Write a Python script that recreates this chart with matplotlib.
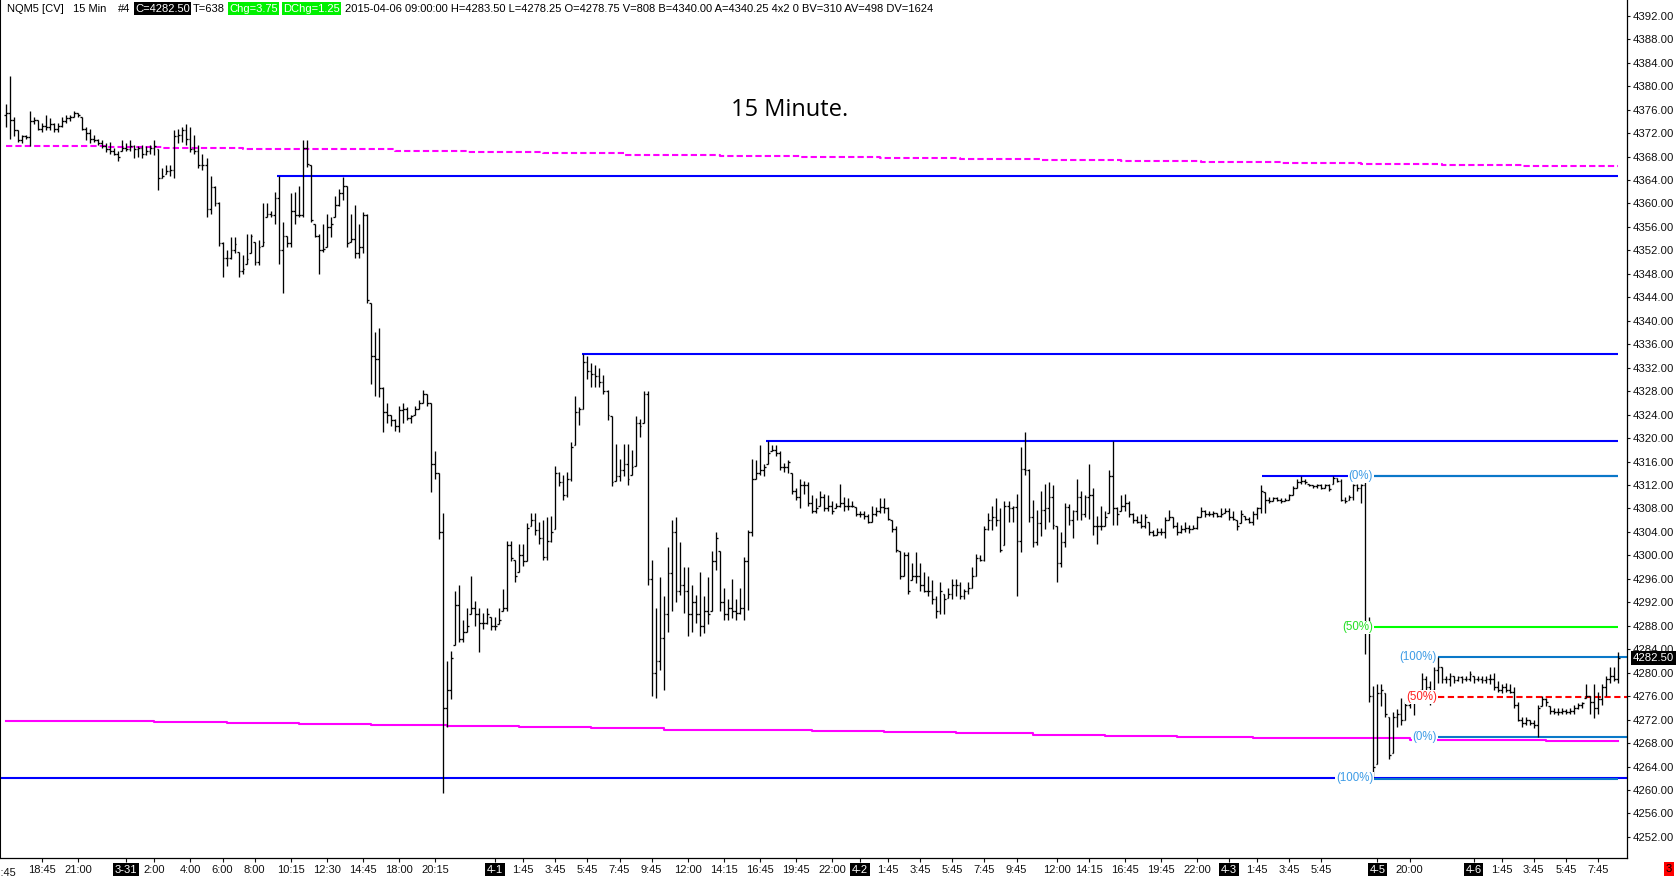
import numpy as np
import matplotlib
matplotlib.use('Agg')
import matplotlib.pyplot as plt
import matplotlib.transforms as mtransforms
from matplotlib.collections import LineCollection

plt.rcParams['font.family'] = ['Liberation Sans', 'DejaVu Sans']

# NQM5 15 min bars: highs / lows / closes (10 bars per line)
highs = [
    4377.0, 4381.75, 4374.75, 4372.5, 4371.75, 4371.75, 4375.75, 4374.75, 4374.25, 4373.75,
    4375.0, 4374.5, 4373.75, 4373.75, 4374.75, 4375.0, 4375.0, 4375.75, 4375.5, 4374.75,
    4373.0, 4372.75, 4371.75, 4371.0, 4370.75, 4370.25, 4370.5, 4369.5, 4369.0, 4370.75,
    4370.25, 4370.75, 4370.0, 4369.75, 4370.0, 4369.75, 4370.0, 4370.75, 4369.25, 4366.0,
    4366.5, 4366.5, 4372.5, 4372.75, 4373.0, 4373.5, 4373.0, 4371.75, 4370.0, 4368.5,
    4367.75, 4364.75, 4363.0, 4360.25, 4353.5, 4352.0, 4354.25, 4354.25, 4351.75, 4351.25,
    4354.75, 4354.75, 4353.5, 4353.75, 4360.0, 4360.0, 4358.75, 4362.0, 4364.75, 4356.75,
    4354.5, 4361.75, 4362.0, 4363.0, 4370.75, 4370.75, 4366.5, 4356.5, 4354.75, 4356.5,
    4358.25, 4357.75, 4361.25, 4362.5, 4364.5, 4363.0, 4358.25, 4359.75, 4356.5, 4358.5,
    4358.25, 4343.0, 4338.0, 4338.75, 4328.75, 4326.0, 4324.0, 4323.25, 4325.5, 4326.0,
    4325.25, 4324.0, 4325.5, 4326.5, 4328.25, 4327.5, 4326.0, 4317.75, 4314.0, 4307.25,
    4282.0, 4283.75, 4294.0, 4295.0, 4289.0, 4291.0, 4296.5, 4292.25, 4291.0, 4290.25,
    4291.0, 4289.5, 4289.5, 4291.0, 4294.25, 4302.5, 4302.5, 4299.25, 4302.0, 4302.0,
    4305.5, 4307.25, 4307.25, 4305.75, 4306.0, 4306.5, 4306.75, 4315.25, 4314.25, 4313.75,
    4314.25, 4319.25, 4327.25, 4325.25, 4334.25, 4334.0, 4332.75, 4332.5, 4332.0, 4330.75,
    4328.25, 4323.75, 4319.0, 4316.5, 4319.0, 4319.0, 4318.0, 4323.75, 4323.25, 4328.0,
    4328.0, 4299.25, 4291.0, 4296.25, 4293.0, 4301.5, 4306.0, 4306.5, 4302.25, 4298.0,
    4298.0, 4295.0, 4293.25, 4297.25, 4293.0, 4296.25, 4300.75, 4304.0, 4300.75, 4294.5,
    4292.5, 4296.0, 4292.5, 4294.5, 4299.75, 4304.25, 4316.5, 4316.25, 4318.75, 4315.5,
    4319.5, 4318.75, 4318.75, 4317.75, 4315.75, 4316.25, 4314.0, 4311.5, 4313.0, 4312.75,
    4312.5, 4310.25, 4309.75, 4311.0, 4310.5, 4310.25, 4309.25, 4309.0, 4312.25, 4310.0,
    4309.75, 4309.25, 4308.25, 4307.5, 4307.5, 4307.0, 4308.5, 4308.25, 4309.75, 4309.75,
    4308.25, 4306.0, 4305.0, 4300.75, 4300.5, 4300.5, 4298.75, 4300.5, 4298.75, 4297.25,
    4296.5, 4295.75, 4293.0, 4295.5, 4293.5, 4294.5, 4296.0, 4296.0, 4295.5, 4294.25,
    4295.5, 4298.0, 4300.25, 4300.0, 4305.0, 4307.25, 4308.5, 4309.75, 4308.0, 4309.25,
    4309.25, 4308.5, 4310.5, 4318.5, 4321.0, 4314.75, 4309.5, 4307.75, 4311.0, 4312.25,
    4312.5, 4312.0, 4305.0, 4304.0, 4309.0, 4308.75, 4307.75, 4313.0, 4311.0, 4310.25,
    4315.5, 4311.5, 4306.75, 4308.5, 4307.5, 4314.5, 4319.5, 4308.25, 4310.25, 4310.5,
    4309.25, 4307.25, 4306.75, 4307.0, 4307.0, 4305.75, 4304.25, 4304.75, 4304.75, 4306.5,
    4307.75, 4306.5, 4305.75, 4305.25, 4305.75, 4305.25, 4305.25, 4306.75, 4308.25, 4307.75,
    4307.5, 4307.5, 4307.25, 4308.0, 4308.0, 4308.0, 4307.5, 4306.0, 4307.75, 4306.75,
    4306.5, 4307.5, 4308.25, 4312.0, 4310.75, 4310.0, 4310.0, 4310.0, 4309.75, 4309.75,
    4310.5, 4311.75, 4313.0, 4313.5, 4313.0, 4312.25, 4312.0, 4312.25, 4312.25, 4312.25,
    4312.25, 4313.5, 4313.25, 4313.0, 4310.0, 4310.25, 4312.25, 4312.25, 4312.25, 4313.0,
    4289.5, 4277.75, 4278.0, 4278.0, 4276.5, 4272.5, 4273.25, 4273.75, 4275.75, 4275.0,
    4276.5, 4276.0, 4277.0, 4280.0, 4279.5, 4278.5, 4281.0, 4282.75, 4281.0, 4279.5,
    4280.0, 4279.5, 4279.5, 4279.5, 4279.5, 4280.25, 4279.5, 4279.5, 4279.5, 4279.5,
    4279.75, 4280.0, 4278.5, 4278.0, 4278.25, 4278.0, 4277.5, 4275.0, 4272.5, 4272.5,
    4272.0, 4272.0, 4274.5, 4276.0, 4275.75, 4274.25, 4274.0, 4274.0, 4274.0, 4273.75,
    4274.0, 4274.5, 4274.75, 4275.0, 4278.0, 4276.0, 4278.0, 4276.75, 4278.0, 4279.5,
    4281.0, 4281.0, 4283.5,
]
lows = [
    4373.0, 4371.0, 4371.5, 4370.5, 4370.25, 4371.0, 4369.75, 4373.5, 4372.5, 4372.25,
    4372.5, 4372.5, 4372.25, 4372.25, 4373.0, 4373.75, 4374.0, 4374.75, 4374.75, 4372.5,
    4370.75, 4370.25, 4370.5, 4370.0, 4369.5, 4368.75, 4368.5, 4368.25, 4367.25, 4369.0,
    4369.0, 4369.0, 4367.75, 4368.0, 4367.75, 4368.25, 4368.5, 4368.25, 4362.25, 4364.25,
    4365.0, 4364.75, 4364.25, 4370.25, 4370.5, 4370.0, 4368.75, 4368.5, 4366.0, 4365.75,
    4357.75, 4358.25, 4359.5, 4352.75, 4347.5, 4349.25, 4350.5, 4351.5, 4347.5, 4348.0,
    4349.75, 4351.5, 4349.5, 4349.5, 4352.75, 4357.75, 4357.75, 4356.5, 4349.75, 4344.75,
    4352.5, 4352.5, 4356.5, 4357.75, 4357.75, 4366.25, 4356.75, 4354.25, 4348.0, 4351.75,
    4352.5, 4354.25, 4357.75, 4359.5, 4360.5, 4352.5, 4353.5, 4350.75, 4350.75, 4351.5,
    4343.0, 4329.25, 4327.25, 4327.0, 4321.0, 4322.5, 4322.0, 4321.25, 4321.0, 4322.5,
    4323.0, 4322.5, 4324.0, 4325.0, 4326.0, 4325.5, 4310.75, 4313.0, 4302.75, 4259.5,
    4270.75, 4275.5, 4284.75, 4285.25, 4285.25, 4287.0, 4290.0, 4288.0, 4283.5, 4287.5,
    4288.25, 4287.25, 4287.25, 4288.25, 4290.5, 4290.5, 4299.0, 4295.5, 4297.25, 4298.25,
    4299.0, 4305.0, 4303.5, 4302.0, 4299.25, 4299.25, 4302.25, 4304.5, 4311.75, 4309.5,
    4310.0, 4312.75, 4318.75, 4322.25, 4325.0, 4330.0, 4328.75, 4328.75, 4328.75, 4327.5,
    4323.0, 4311.75, 4312.75, 4312.75, 4313.5, 4312.0, 4313.75, 4315.25, 4320.25, 4322.5,
    4295.0, 4276.0, 4275.75, 4280.5, 4277.0, 4287.0, 4290.5, 4292.0, 4293.25, 4290.25,
    4286.25, 4287.0, 4288.5, 4286.25, 4286.75, 4288.25, 4290.5, 4297.5, 4290.5, 4289.0,
    4289.0, 4289.25, 4289.0, 4290.0, 4289.0, 4290.75, 4303.25, 4313.0, 4313.75, 4313.5,
    4315.5, 4317.75, 4317.0, 4314.5, 4314.25, 4314.0, 4310.5, 4309.5, 4308.0, 4310.5,
    4308.5, 4307.25, 4307.25, 4308.5, 4307.5, 4307.5, 4307.0, 4308.0, 4308.25, 4307.5,
    4307.75, 4308.25, 4306.75, 4306.5, 4306.25, 4305.5, 4305.75, 4306.75, 4307.25, 4307.25,
    4306.0, 4304.0, 4300.5, 4296.0, 4296.5, 4293.5, 4295.75, 4295.25, 4294.0, 4293.75,
    4293.0, 4291.75, 4289.25, 4290.0, 4290.0, 4292.75, 4292.5, 4293.0, 4292.5, 4292.5,
    4293.5, 4294.5, 4296.5, 4299.0, 4299.0, 4304.25, 4304.25, 4305.0, 4300.5, 4301.75,
    4305.75, 4305.75, 4293.0, 4300.5, 4313.75, 4305.75, 4301.5, 4301.75, 4303.25, 4304.5,
    4305.75, 4304.5, 4295.5, 4298.0, 4301.5, 4305.25, 4303.0, 4306.0, 4306.0, 4306.5,
    4306.25, 4303.5, 4302.0, 4304.25, 4305.0, 4307.25, 4305.25, 4305.25, 4307.5, 4307.5,
    4306.5, 4305.5, 4305.5, 4304.75, 4304.75, 4303.5, 4303.25, 4303.5, 4303.5, 4303.0,
    4306.0, 4304.75, 4303.5, 4303.75, 4304.0, 4303.75, 4304.5, 4304.5, 4306.5, 4306.5,
    4306.75, 4306.5, 4306.5, 4306.5, 4307.25, 4306.0, 4306.0, 4304.25, 4305.5, 4306.0,
    4305.5, 4305.25, 4306.25, 4307.25, 4307.25, 4309.0, 4309.25, 4309.25, 4309.0, 4309.25,
    4309.5, 4310.25, 4311.5, 4312.25, 4312.25, 4311.75, 4311.5, 4311.5, 4311.25, 4311.5,
    4311.0, 4312.25, 4312.5, 4309.25, 4309.0, 4309.5, 4309.5, 4311.0, 4309.0, 4283.25,
    4275.0, 4262.0, 4264.5, 4274.25, 4272.5, 4265.25, 4266.25, 4270.75, 4271.0, 4272.0,
    4274.0, 4272.75, 4275.0, 4277.0, 4277.0, 4274.5, 4277.0, 4278.25, 4278.25, 4278.25,
    4277.75, 4278.25, 4278.5, 4278.25, 4278.5, 4278.5, 4278.25, 4278.5, 4278.25, 4278.25,
    4278.0, 4277.0, 4276.75, 4276.5, 4276.75, 4276.5, 4274.0, 4271.75, 4270.75, 4271.0,
    4271.0, 4270.5, 4269.0, 4274.25, 4274.25, 4273.0, 4273.0, 4272.75, 4273.0, 4273.0,
    4273.0, 4273.0, 4273.75, 4274.0, 4275.75, 4273.0, 4272.25, 4273.0, 4274.5, 4276.0,
    4278.25, 4278.5, 4278.25,
]
closes = [
    4375.5, 4374.25, 4372.5, 4370.75, 4371.5, 4371.25, 4374.0, 4374.25, 4372.75, 4373.25,
    4373.0, 4373.5, 4372.75, 4373.25, 4374.0, 4374.5, 4374.75, 4375.5, 4375.0, 4372.75,
    4372.0, 4371.0, 4370.75, 4370.25, 4369.75, 4369.25, 4369.0, 4368.5, 4368.0, 4369.5,
    4369.25, 4369.75, 4369.25, 4369.5, 4368.5, 4369.0, 4369.5, 4369.75, 4364.25, 4364.75,
    4365.5, 4365.75, 4371.5, 4371.75, 4372.5, 4371.0, 4369.25, 4369.0, 4366.5, 4366.5,
    4359.0, 4362.75, 4360.0, 4353.25, 4350.75, 4350.75, 4352.0, 4353.0, 4348.5, 4348.75,
    4350.5, 4354.5, 4350.0, 4352.5, 4353.5, 4358.25, 4358.0, 4361.0, 4352.0, 4354.5,
    4353.25, 4358.75, 4358.0, 4358.0, 4369.5, 4366.75, 4357.25, 4354.5, 4352.0, 4352.25,
    4356.0, 4356.5, 4359.75, 4361.75, 4363.0, 4353.25, 4354.0, 4351.5, 4352.5, 4358.0,
    4343.5, 4334.0, 4333.5, 4328.5, 4324.5, 4324.0, 4323.0, 4322.0, 4324.75, 4325.0,
    4323.5, 4323.75, 4325.0, 4326.0, 4327.5, 4326.0, 4315.5, 4314.0, 4304.0, 4274.0,
    4277.0, 4282.5, 4291.5, 4285.75, 4287.0, 4288.0, 4291.0, 4290.0, 4288.5, 4288.5,
    4290.0, 4288.0, 4288.0, 4289.0, 4291.0, 4301.75, 4299.5, 4296.5, 4300.0, 4299.0,
    4304.75, 4306.0, 4304.25, 4303.0, 4299.75, 4302.5, 4304.0, 4314.0, 4312.5, 4310.25,
    4313.0, 4318.5, 4324.5, 4325.0, 4333.0, 4331.5, 4331.0, 4330.5, 4329.5, 4328.0,
    4324.0, 4312.5, 4313.5, 4314.5, 4315.5, 4313.0, 4315.0, 4322.5, 4322.0, 4327.5,
    4296.0, 4280.0, 4282.0, 4286.0, 4290.0, 4297.0, 4304.0, 4294.0, 4295.0, 4294.0,
    4290.0, 4292.0, 4290.0, 4288.0, 4290.5, 4290.0, 4299.0, 4303.0, 4292.0, 4290.0,
    4291.0, 4290.5, 4290.25, 4291.0, 4299.0, 4304.0, 4313.0, 4314.0, 4314.5, 4315.0,
    4317.5, 4318.0, 4317.5, 4315.0, 4315.0, 4316.0, 4311.0, 4310.0, 4312.0, 4312.0,
    4309.0, 4307.5, 4308.0, 4310.0, 4308.0, 4308.5, 4307.5, 4308.5, 4309.0, 4308.5,
    4308.5, 4308.5, 4307.0, 4307.0, 4306.75, 4305.75, 4307.0, 4307.5, 4308.25, 4308.0,
    4306.25, 4304.5, 4301.0, 4296.5, 4300.0, 4294.0, 4296.5, 4296.5, 4295.0, 4294.0,
    4294.0, 4292.5, 4290.5, 4294.0, 4292.5, 4293.5, 4295.0, 4295.0, 4293.0, 4294.0,
    4294.5, 4296.5, 4299.5, 4299.25, 4304.5, 4306.0, 4306.5, 4306.0, 4301.0, 4308.5,
    4308.0, 4308.25, 4302.5, 4314.75, 4314.5, 4306.5, 4302.25, 4305.5, 4307.75, 4308.0,
    4310.0, 4305.25, 4298.75, 4302.25, 4308.25, 4306.0, 4307.5, 4310.0, 4307.0, 4310.0,
    4310.25, 4305.0, 4305.0, 4305.0, 4306.5, 4313.5, 4308.0, 4307.0, 4308.5, 4309.0,
    4307.0, 4306.0, 4305.75, 4305.0, 4306.5, 4304.0, 4303.5, 4304.0, 4304.0, 4306.0,
    4306.5, 4305.0, 4304.0, 4304.5, 4304.75, 4304.5, 4304.75, 4306.5, 4307.5, 4307.0,
    4307.0, 4307.25, 4306.75, 4307.0, 4307.5, 4306.5, 4306.25, 4305.0, 4307.0, 4306.25,
    4305.75, 4307.0, 4308.0, 4311.0, 4309.5, 4309.25, 4309.75, 4309.5, 4309.25, 4309.5,
    4310.25, 4311.5, 4312.5, 4312.75, 4312.5, 4312.0, 4311.75, 4312.0, 4311.5, 4312.0,
    4311.25, 4313.25, 4312.75, 4309.5, 4309.25, 4310.0, 4312.0, 4311.5, 4312.0, 4288.5,
    4276.0, 4264.0, 4276.5, 4277.0, 4273.0, 4266.0, 4272.5, 4273.0, 4272.0, 4274.5,
    4276.0, 4275.0, 4276.5, 4279.0, 4277.5, 4275.0, 4280.5, 4281.0, 4279.0, 4279.0,
    4279.5, 4278.75, 4279.25, 4279.0, 4279.0, 4279.75, 4279.0, 4279.0, 4278.75, 4279.0,
    4279.0, 4277.5, 4277.0, 4277.5, 4277.0, 4276.75, 4274.5, 4272.0, 4271.5, 4272.0,
    4271.5, 4271.0, 4274.0, 4275.5, 4275.0, 4273.5, 4273.25, 4273.25, 4273.5, 4273.25,
    4273.5, 4274.0, 4274.5, 4274.75, 4276.0, 4275.0, 4274.0, 4275.5, 4277.5, 4279.0,
    4279.5, 4279.0, 4282.5,
]
first_open = 4375.0

# x axis labels (bar index of each tick)
xtick_pos = [9, 18, 30, 37, 46, 54, 62, 71, 80, 89, 98, 107, 122, 129, 137, 145, 153, 161, 170, 179,
             188, 197, 206, 213, 220, 228, 236, 244, 252, 262, 270, 279, 288, 297, 305, 312, 320, 328,
             342, 350, 366, 373, 381, 389, 397]
xtick_txt = ['18:45', '21:00', '3-31', '2:00', '4:00', '6:00', '8:00', '10:15', '12:30', '14:45',
             '18:00', '20:15', '4-1', '1:45', '3:45', '5:45', '7:45', '9:45', '12:00', '14:15',
             '16:45', '19:45', '22:00', '4-2', '1:45', '3:45', '5:45', '7:45', '9:45', '12:00',
             '14:15', '16:45', '19:45', '22:00', '4-3', '1:45', '3:45', '5:45', '4-5', '20:00',
             '4-6', '1:45', '3:45', '5:45', '7:45']

# drawn lines: blue highs lines (level, start bar)
blue_levels = [4364.75, 4334.25, 4319.5, 4313.5]
blue_starts = [67.5, 143.6, 189.6, 313.2]
floor_level = 4262.0

# magenta averages, step levels (start bar, level)
dash_starts = [0, 8, 25, 39, 59, 79, 97, 115, 134, 154, 178, 198, 218, 238, 258, 278, 298, 318, 338, 358, 378]
dash_levels = [4369.85, 4369.8, 4369.6, 4369.45, 4369.3, 4369.2, 4369.0, 4368.8, 4368.6, 4368.3, 4368.1,
               4367.9, 4367.7, 4367.5, 4367.35, 4367.2, 4367.05, 4366.9, 4366.75, 4366.6, 4366.45]
solid_starts = [0, 18, 37, 55, 73, 91, 110, 128, 146, 164, 183, 201, 219, 237, 256, 274, 292, 311, 329, 350, 368, 384]
solid_levels = [4271.8, 4271.7, 4271.55, 4271.45, 4271.3, 4271.0, 4270.85, 4270.7, 4270.5, 4270.3, 4270.15,
                4270.0, 4269.85, 4269.7, 4269.45, 4269.25, 4269.1, 4268.95, 4268.8, 4268.6, 4268.45, 4268.3]

# fib retracements: (0% price, 100% price, start bar)
fib1 = (4313.5, 4262.0, 341.2)
fib2 = (4269.0, 4282.75, 357.1)

highs = np.array(highs)
lows = np.array(lows)
closes = np.array(closes)
opens = np.clip(np.r_[first_open, closes[:-1]], lows, highs)
n = len(closes)
last = n - 1

W, H = 1679, 876
fig = plt.figure(figsize=(W / 100, H / 100), dpi=100)
ax = fig.add_axes([0, 18 / H, 1627 / W, 858 / H])
dx = 4.01
ax.set_xlim(-6 / dx, 1621 / dx)
ax.set_ylim(4248.41, 4394.68)

# bars
segs = []
for i in range(n):
    segs.append([(i, lows[i]), (i, highs[i])])
    segs.append([(i - 0.45, opens[i]), (i, opens[i])])
    segs.append([(i, closes[i]), (i + 0.45, closes[i])])
ax.add_collection(LineCollection(segs, colors='black', linewidths=0.95, zorder=4))

# magenta average lines
ax.plot(dash_starts + [last], dash_levels + [dash_levels[-1]], drawstyle='steps-post',
        color='#FF00FF', lw=1.5, dashes=(3, 1.5), zorder=2)
ax.plot(solid_starts + [last], solid_levels + [solid_levels[-1]], drawstyle='steps-post',
        color='#FF00FF', lw=1.5, zorder=2)

# blue lines
for lv, st in zip(blue_levels, blue_starts):
    ax.hlines(lv, st, last, colors='#0000FF', lw=1.5, zorder=2)
ax.hlines(floor_level, -6 / dx, 1621 / dx, colors='#0000FF', lw=1.5, zorder=2)

steel = '#0A78C8'
steel_txt = '#3C9BE6'

# fib 1
f0, f100, fs = fib1
mid1 = (f0 + f100) / 2
ax.hlines(f0, fs, last, colors=steel, lw=1.5, zorder=2.5)
ax.hlines(mid1, fs, last, colors='#00FF00', lw=1.5, zorder=2.5)
ax.hlines(f100 - 0.2, fs, last, colors=steel, lw=1.5, zorder=2.5)
for lv, txt, col in [(f0, '(0%)', steel_txt), (mid1, '(50%)', '#22E022'), (f100, '(100%)', steel_txt)]:
    ax.text(fs - 0.3, lv, txt, ha='right', va='center', fontsize=8.3, color=col, zorder=5,
            bbox=dict(facecolor='white', edgecolor='none', pad=0.5))

# fib 2
g0, g100, gs = fib2
mid2 = (g0 + g100) / 2
right = 1621 / dx
ax.hlines(g100, gs, right, colors=steel, lw=1.5, zorder=2.5)
ax.hlines(mid2, gs, right, colors='#FF0000', lw=1.5, linestyles=(0, (3, 1.7)), zorder=2.5)
ax.hlines(g0, gs, right, colors=steel, lw=1.5, zorder=2.5)
for lv, txt, col in [(g100, '(100%)', steel_txt), (mid2, '(50%)', '#FF2020'), (g0, '(0%)', steel_txt)]:
    ax.text(gs - 0.3, lv, txt, ha='right', va='center', fontsize=8.3, color=col, zorder=5,
            bbox=dict(facecolor='white', edgecolor='none', pad=0.5))

# axes styling
ax.spines['top'].set_visible(False)
ax.spines['left'].set_linewidth(1.5)
ax.spines['right'].set_linewidth(0.9)
ax.spines['bottom'].set_linewidth(0.9)

ax.yaxis.set_ticks_position('right')
yt = np.arange(4252, 4393, 4)
ax.set_yticks(yt)
ax.set_yticklabels(['%.2f' % v for v in yt])
ax.tick_params(axis='y', direction='out', length=2.5, width=0.8, pad=1.5, labelsize=8.2, colors='#111111')

ax.set_xticks(xtick_pos)
ax.set_xticklabels(xtick_txt)
ax.tick_params(axis='x', direction='out', length=3, width=0.8, pad=2.0, labelsize=8, colors='#111111')
for lbl in ax.get_xticklabels():
    if '-' in lbl.get_text():
        lbl.set_color('white')
        lbl.set_bbox(dict(facecolor='black', edgecolor='none', pad=1.2))
ax.text(-1.0, -0.0118, '16:45', transform=mtransforms.blended_transform_factory(ax.transData, ax.transAxes),
        ha='center', va='top', fontsize=8, color='#111111', clip_on=False)

# header line
hy = 1 - 8.5 / H
fs_h = 8
fig.text(7 / W, hy, 'NQM5 [CV]', fontsize=fs_h, va='center')
fig.text(73 / W, hy, '15 Min', fontsize=fs_h, va='center')
fig.text(118 / W, hy, '#4', fontsize=fs_h, va='center')
fig.text(135 / W, hy, 'C=4282.50', fontsize=fs_h, va='center', color='white',
         bbox=dict(facecolor='black', edgecolor='none', pad=1.0))
fig.text(193 / W, hy, 'T=638', fontsize=fs_h, va='center')
fig.text(229 / W, hy, 'Chg=3.75', fontsize=fs_h, va='center', color='white',
         bbox=dict(facecolor='#00F000', edgecolor='none', pad=1.0))
fig.text(283 / W, hy, 'DChg=1.25', fontsize=fs_h, va='center', color='white',
         bbox=dict(facecolor='#00F000', edgecolor='none', pad=1.0))
fig.text(345 / W, hy, '2015-04-06 09:00:00 H=4283.50 L=4278.25 O=4278.75 V=808 B=4340.00 '
         'A=4340.25 4x2 0 BV=310 AV=498 DV=1624', fontsize=fs_h, va='center')

# title
fig.text(789.7 / W, 1 - 110 / H, '15 Minute.', fontsize=17, ha='center', va='center',
         family=['Open Sans', 'DejaVu Sans'])

# last price box on the price scale
bt = mtransforms.blended_transform_factory(fig.transFigure, ax.transData)
fig.text(1633 / W, closes[-1], '%.2f' % closes[-1], transform=bt, fontsize=8.2, color='white',
         va='center', ha='left', bbox=dict(facecolor='black', edgecolor='none', pad=1.3))

# small red marker bottom right
fig.text(1669 / W, 1 - 869 / H, '3', fontsize=8, ha='center', va='center',
         bbox=dict(facecolor='#FF0000', edgecolor='none', pad=1.2))

fig.savefig('out.png', dpi=100, facecolor='white')
